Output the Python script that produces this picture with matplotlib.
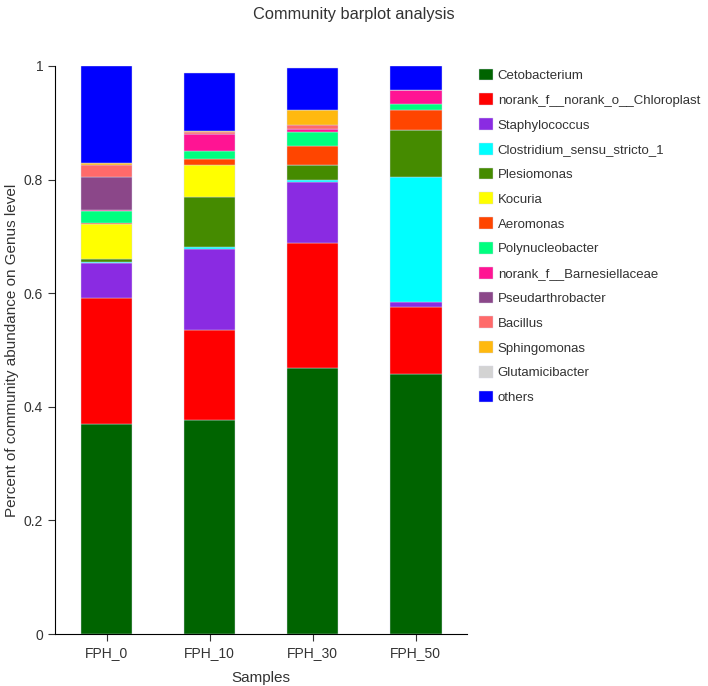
import numpy as np
import matplotlib
matplotlib.use("Agg")
import matplotlib.pyplot as plt

plt.rcParams['font.family'] = ['Liberation Sans', 'DejaVu Sans']

samples = ["FPH_0", "FPH_10", "FPH_30", "FPH_50"]

genera = ["Cetobacterium", "norank_f__norank_o__Chloroplast", "Staphylococcus",
          "Clostridium_sensu_stricto_1", "Plesiomonas", "Kocuria", "Aeromonas",
          "Polynucleobacter", "norank_f__Barnesiellaceae", "Pseudarthrobacter",
          "Bacillus", "Sphingomonas", "Glutamicibacter", "others"]

# abundance per genus, one value per sample (FPH_0, FPH_10, FPH_30, FPH_50)
cetobacterium = [0.370, 0.377, 0.468, 0.458]
chloroplast = [0.222, 0.158, 0.220, 0.117]
staphylococcus = [0.062, 0.143, 0.108, 0.010]
clostridium = [0.001, 0.004, 0.003, 0.220]
plesiomonas = [0.005, 0.087, 0.027, 0.082]
kocuria = [0.061, 0.057, 0.000, 0.000]
aeromonas = [0.002, 0.010, 0.034, 0.036]
polynucleobacter = [0.022, 0.015, 0.023, 0.010]
barnesiellaceae = [0.001, 0.029, 0.006, 0.024]
pseudarthrobacter = [0.058, 0.001, 0.000, 0.000]
bacillus = [0.022, 0.003, 0.007, 0.000]
sphingomonas = [0.003, 0.001, 0.026, 0.000]
glutamicibacter = [0.001, 0.000, 0.000, 0.000]
others = [0.170, 0.102, 0.074, 0.043]

colors = ["#006400", "#FF0000", "#8A2BE2", "#00FFFF", "#458B00", "#FFFF00",
          "#FF4500", "#00FF7F", "#FF1493", "#8B4789", "#FF6A6A", "#FFB90F",
          "#D3D3D3", "#0000FF"]

values = [cetobacterium, chloroplast, staphylococcus, clostridium, plesiomonas,
          kocuria, aeromonas, polynucleobacter, barnesiellaceae, pseudarthrobacter,
          bacillus, sphingomonas, glutamicibacter, others]

fig = plt.figure(figsize=(7.08, 6.86), dpi=100)
ax = fig.add_axes([0.0777, 0.0758, 0.5823, 0.828])

x = np.arange(len(samples))
bottom = np.zeros(len(samples))
for name, vals, col in zip(genera, values, colors):
    ax.bar(x, vals, width=0.5, bottom=bottom, color=col, label=name,
           edgecolor="#d8d8e8", linewidth=0.3)
    bottom += np.array(vals)

ax.set_xlim(-0.5, 3.5)
ax.set_ylim(0, 1)
ax.set_xticks(x)
ax.set_xticklabels(samples, fontsize=10, color="#333333")
ax.set_yticks([0, 0.2, 0.4, 0.6, 0.8, 1.0])
ax.set_yticklabels(["0", "0.2", "0.4", "0.6", "0.8", "1"], fontsize=10, color="#333333")
ax.spines["top"].set_visible(False)
ax.spines["right"].set_visible(False)
ax.tick_params(direction="out", length=5, width=0.8, colors="#333333")
ax.set_xlabel("Samples", fontsize=11, color="#333333", labelpad=8)
ax.set_ylabel("Percent of community abundance on Genus level", fontsize=11,
              color="#333333", va="center")
ax.yaxis.set_label_coords(-0.105, 0.5)

fig.suptitle("Community barplot analysis", fontsize=11.8, color="#333333", y=0.99)

handles, labels = ax.get_legend_handles_labels()
fig.legend(handles, labels, loc="upper left", bbox_to_anchor=(0.677, 0.900),
           frameon=False, fontsize=9.5, handlelength=1.0, handleheight=1.0,
           handletextpad=0.4, labelspacing=0.86, borderpad=0, borderaxespad=0,
           labelcolor="#333333")

plt.savefig("out.png", dpi=100)
